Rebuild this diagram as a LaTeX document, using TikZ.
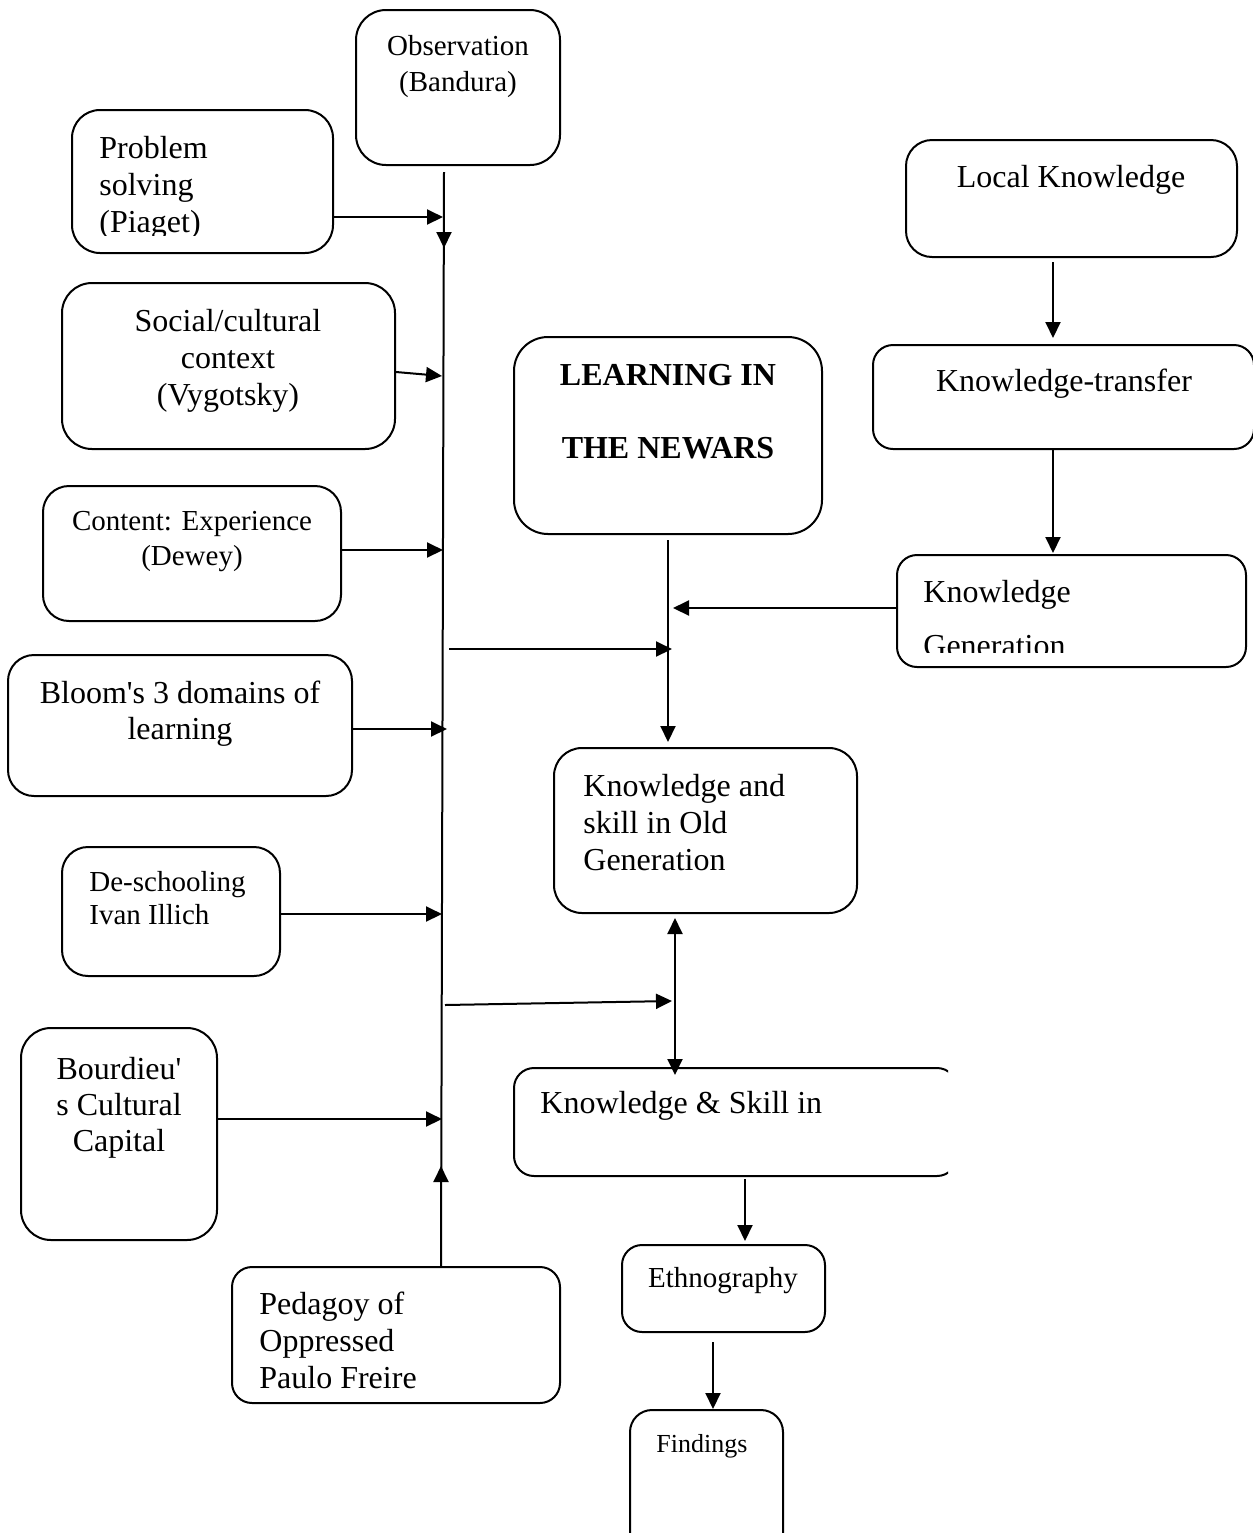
\documentclass[tikz,border=0pt]{standalone}
\usepackage{fontspec}
\setmainfont{Liberation Serif}
\usetikzlibrary{arrows.meta,fit}
\begin{document}
\begin{tikzpicture}[x=0.5pt,y=-0.5pt,
  box/.style={draw, line width=1pt, rounded corners=13pt, inner sep=0pt},
  sbox/.style={box, rounded corners=10pt},
  lg/.style={inner sep=0pt, font=\fontsize{16}{18.5}\selectfont},
  sm/.style={inner sep=0pt, font=\fontsize{14.5}{18}\selectfont},
  xs/.style={inner sep=0pt, font=\fontsize{13}{16}\selectfont},
  arr/.style={line width=1pt, -{Triangle[length=8pt,width=7.5pt]}},
  dbl/.style={line width=1pt, {Triangle[length=8pt,width=7.5pt]}-{Triangle[length=8pt,width=7.5pt]}},
  ln/.style={line width=1pt}]
\clip (0,0) rectangle (1253,1533);
\fill[white] (0,0) rectangle (1253,1533);

% ---------- theory boxes on the left ----------
\node[box, fit={(356,10) (560,165)}, rounded corners=15pt] (obs) {};
\node[sm, anchor=base] (obs1) at (458,55) {Observation};
\node[sm, anchor=base] (obs2) at (458,91) {(Bandura)};

\node[box, fit={(72,110) (333,253)}, rounded corners=14pt] (prob) {};
\node[lg, anchor=base west] (prob1) at (99,158) {Problem};
\node[lg, anchor=base west] (prob2) at (99,195) {solving};
\begin{scope}
  \clip (74,205) rectangle (330,235);
  \node[lg, anchor=base west] (prob3) at (99,232) {(Piaget)};
\end{scope}

\node[box, fit={(62,283) (395,449)}, rounded corners=15pt] (soc) {};
\node[lg, anchor=base] (soc1) at (228,331) {Social/cultural};
\node[lg, anchor=base] (soc2) at (228,368) {context};
\node[lg, anchor=base] (soc3) at (228,405) {(Vygotsky)};

\node[box, fit={(43,486) (341,621)}] (cont) {};
\node[sm, anchor=base] (cont1) at (192,530) {Content: Experience};
\node[sm, anchor=base] (cont2) at (192,565) {(Dewey)};

\node[box, fit={(8,655) (352,796)}] (bloom) {};
\node[lg, anchor=base] (bloom1) at (180,703) {Bloom\textquotesingle s 3 domains of};
\node[lg, anchor=base] (bloom2) at (180,739) {learning};

\node[box, fit={(62,847) (280,976)}] (desch) {};
\node[sm, anchor=base west] (desch1) at (89,891) {De-schooling};
\node[sm, anchor=base west] (desch2) at (89,924) {Ivan Illich};

\node[box, fit={(21,1028) (217,1240)}, rounded corners=15pt] (bour) {};
\node[lg, anchor=base] (bour1) at (119,1079) {Bourdieu\textquotesingle};
\node[lg, anchor=base] (bour2) at (119,1115) {s Cultural};
\node[lg, anchor=base] (bour3) at (119,1151) {Capital};

\node[sbox, fit={(232,1267) (560,1403)}] (ped) {};
\node[lg, anchor=base west] (ped1) at (259,1314) {Pedagoy of};
\node[lg, anchor=base west] (ped2) at (259,1351) {Oppressed};
\node[lg, anchor=base west] (ped3) at (259,1388) {Paulo Freire};

% ---------- central column ----------
\node[box, fit={(514,337) (822,534)}, rounded corners=17pt] (learn) {};
\node[lg, anchor=base, font=\fontsize{16}{18.5}\selectfont\bfseries] (learn1) at (668,385) {LEARNING IN};
\node[lg, anchor=base, font=\fontsize{16}{18.5}\selectfont\bfseries] (learn2) at (668,458) {THE NEWARS};

\node[box, fit={(554,748) (857,913)}, rounded corners=14pt] (old) {};
\node[lg, anchor=base west] (old1) at (583,796) {Knowledge and};
\node[lg, anchor=base west] (old2) at (583,833) {skill in Old};
\node[lg, anchor=base west] (old3) at (583,870) {Generation};

\begin{scope}
  \clip (500,1055) rectangle (948,1190);
  \node[sbox, fit={(514,1068) (957,1176)}] (ks) {};
\end{scope}
\node[lg, anchor=base west] (ks1) at (540,1113) {Knowledge \& Skill in};

\node[sbox, fit={(622,1245) (825,1332)}] (eth) {};
\node[sm, anchor=base] (eth1) at (723,1287) {Ethnography};

\node[box, fit={(630,1410) (783,1560)}, rounded corners=11pt] (find) {};
\node[xs, anchor=base] (find1) at (702,1452) {Findings};

% ---------- right column ----------
\node[box, fit={(906,140) (1237,257)}] (local) {};
\node[lg, anchor=base] (local1) at (1071,187) {Local Knowledge};

\node[sbox, fit={(873,345) (1254,449)}] (trans) {};
\node[lg, anchor=base] (trans1) at (1064,391) {Knowledge-transfer};

\node[sbox, fit={(897,555) (1246,667)}] (gen) {};
\node[lg, anchor=base west] (gen1) at (923,602) {Knowledge};
\begin{scope}
  \clip (900,615) rectangle (1240,652);
  \node[lg, anchor=base west] (gen2) at (923,656) {Generation};
\end{scope}

% ---------- main vertical spine ----------
\coordinate (mTop) at (444,172);
\coordinate (mDown) at (444,248);
\coordinate (mBot) at (441,1267);
\coordinate (mUp) at (441,1166);
\draw[ln] (mTop) -- (mBot);
\draw[arr] (mTop) -- (mDown);
\draw[arr] (mBot) -- (mUp);

% theory boxes feeding the spine
\coordinate (jProb) at (443,217);
\coordinate (jSoc) at (442,376);
\coordinate (jCont) at (443,550);
\coordinate (jBloom) at (447,729);
\coordinate (jDesch) at (442,914);
\coordinate (jBour) at (442,1119);
\draw[arr] (prob.east |- jProb) -- (jProb);
\draw[arr] ([yshift=-3pt]soc.east) -- (jSoc);
\draw[arr] (cont.east |- jCont) -- (jCont);
\draw[arr] (bloom.east |- jBloom) -- (jBloom);
\draw[arr] (desch.east |- jDesch) -- (jDesch);
\draw[arr] (bour.east |- jBour) -- (jBour);

% spine to central column
\coordinate (sA) at (449,649);
\coordinate (cA) at (672,649);
\draw[arr] (sA) -- (cA);
\coordinate (sB) at (445,1005);
\coordinate (cB) at (672,1001);
\draw[arr] (sB) -- (cB);

% central column connectors
\coordinate (lTop) at (668,540);
\coordinate (lTip) at (668,742);
\draw[arr] (lTop) -- (lTip);
\coordinate (gTip) at (673,608);
\draw[arr] (gen.west |- gTip) -- (gTip);
\coordinate (dTop) at (675,918);
\coordinate (dBot) at (675,1075);
\draw[dbl] (dTop) -- (dBot);

% right column connectors
\coordinate (r1a) at (1053,262);
\coordinate (r1b) at (1053,338);
\draw[arr] (r1a) -- (r1b);
\coordinate (r2b) at (1053,553);
\draw[arr] (trans.south -| r1a) -- (r2b);

% lower chain
\coordinate (k1) at (745,1179);
\coordinate (k2) at (745,1241);
\draw[arr] (k1) -- (k2);
\coordinate (e1) at (713,1342);
\coordinate (e2) at (713,1409);
\draw[arr] (e1) -- (e2);
\end{tikzpicture}
\end{document}
